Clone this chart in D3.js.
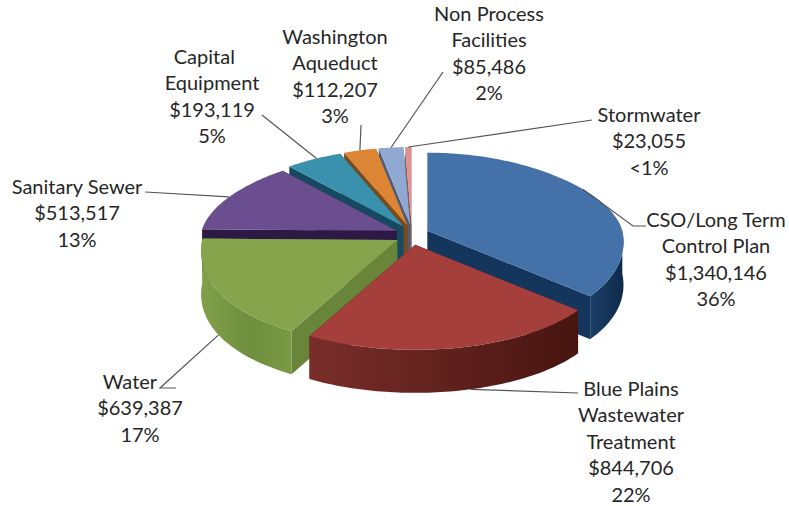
<!DOCTYPE html>
<html>
<head>
<meta charset="utf-8">
<script src="https://cdn.jsdelivr.net/npm/d3@7"></script>
<style>
  html, body { margin: 0; padding: 0; background: #fff; }
  text { font-family: Lato, "Open Sans", sans-serif; font-size: 20px; fill: #262626; }
</style>
</head>
<body>
<script>
// data, clockwise from 12 o'clock
// the non-breaking spaces push a line left of centre, as in the original labels
var names = ["CSO/Long Term|Control Plan", "Blue Plains|Wastewater|Treatment", "Water\u00a0\u00a0\u00a0\u00a0", "Sanitary Sewer",
             "Capital\u00a0\u00a0\u00a0|Equipment", "Washington|Aqueduct", "Non Process|Facilities", "Stormwater"];
var costs = [1340146, 844706, 639387, 513517, 193119, 112207, 85486, 23055];
var shares = ["36%", "22%", "17%", "13%", "5%", "3%", "2%", "<1%"];

// colours per slice: top face, radial wall, outer wall left/right
var topColors = ["#4571a9", "#a43f3c", "#86a44b", "#6b4e90", "#3a91ad", "#dc8535", "#8fa9d3", "#dc9391"];
var sideColors = ["#14365c", "#5a1c19", "#68853a", "#2c1a45", "#174a60", "#7a4a1c", "#4d5d78", "#8a5a58"];
var wallLeft = ["#1b3f69", "#7a2e2a", "#80a04b", "#2c1a45", "#174a60", "#7a4a1c", "#4d5d78", "#8a5a58"];
var wallRight = ["#0f2a4a", "#471410", "#7b9a45", "#2c1a45", "#174a60", "#7a4a1c", "#4d5d78", "#8a5a58"];

// label placement: centre x, y of first line, leader line points from the pie outward
var labelX = [716, 631, 140, 77, 212, 335, 489, 649];
var labelY = [220, 389, 382, 187, 57, 37, 14, 115];
var leaders = [
  [[633, 226], [646, 226]],
  [[578, 393]],
  [[160, 388], [176, 388]],
  [[145, 192]],
  [[262, 115]],
  [[361, 125]],
  [[443, 72]],
  [[592, 120]]
];
var lineHeight = 26.4;

var width = 789, height = 506;

// pie geometry, tilted ellipse with a bit of perspective
var cx = 412, cy = 235,
    rx = 195,
    ryBack = 78, ryFront = 105,
    persp = 0.11,
    depth = 43,
    explodeX = 17, explodeY = 10;

var svg = d3.select("body").append("svg")
    .attr("width", width)
    .attr("height", height)
    .style("display", "block");

var defs = svg.append("defs");

var pie = d3.pie().sort(null).value(function(d) { return d; });
var slices = pie(costs);

slices.forEach(function(s) {
  s.mid = (s.startAngle + s.endAngle) / 2;
  s.ax = cx + explodeX * Math.sin(s.mid);
  s.ay = cy - explodeY * Math.cos(s.mid);
});

// angle on the rim to screen position for one slice
function rim(s, a, drop) {
  var sin = Math.sin(a), cos = Math.cos(a);
  var ry = cos > 0 ? ryBack : ryFront;
  return [s.ax + rx * sin * (1 - persp * cos), s.ay - ry * cos + (drop || 0)];
}

function arcPoints(s, a0, a1, drop) {
  var n = Math.max(2, Math.ceil((a1 - a0) / 0.02));
  return d3.range(n + 1).map(function(i) {
    return rim(s, a0 + (a1 - a0) * i / n, drop);
  });
}

var line = d3.line().curve(d3.curveLinear);

// gradients for the outer walls
slices.forEach(function(s) {
  var g = defs.append("linearGradient").attr("id", "wall" + s.index);
  g.append("stop").attr("offset", "0%").attr("stop-color", wallLeft[s.index]);
  if (s.index == 2) {
    g.append("stop").attr("offset", "55%").attr("stop-color", "#6f8e3e");
  }
  g.append("stop").attr("offset", "100%").attr("stop-color", wallRight[s.index]);
});

// back to front, so nearer slices cover the walls behind them
var order = slices.slice().sort(function(a, b) { return Math.cos(b.mid) - Math.cos(a.mid); });

var g = svg.selectAll(".slice")
    .data(order)
    .enter().append("g")
    .attr("class", "slice");

// radial walls
g.each(function(s) {
  var el = d3.select(this);
  [s.startAngle, s.endAngle].forEach(function(a) {
    var p = rim(s, a);
    el.append("path")
      .attr("d", line([[s.ax, s.ay], p, [p[0], p[1] + depth], [s.ax, s.ay + depth]]) + "Z")
      .attr("fill", sideColors[s.index]);
  });
});

// outer wall, only the part facing the viewer
g.each(function(s) {
  var a0 = Math.max(s.startAngle, Math.PI / 2),
      a1 = Math.min(s.endAngle, Math.PI * 1.5);
  if (a1 <= a0) return;
  var pts = arcPoints(s, a0, a1, 0).concat(arcPoints(s, a0, a1, depth).reverse());
  d3.select(this).append("path")
    .attr("d", line(pts) + "Z")
    .attr("fill", "url(#wall" + s.index + ")");
});

// top faces
g.append("path")
    .attr("d", function(s) {
      return line([[s.ax, s.ay]].concat(arcPoints(s, s.startAngle, s.endAngle, 0))) + "Z";
    })
    .attr("fill", function(s) { return topColors[s.index]; });

// leader lines, from the rim out to the label
var leaderTouch = [0.45, 0.45, 0.5, 0.5, 0.55, 0.5, 0.5, 0.5];
svg.selectAll(".leader")
    .data(slices)
    .enter().append("path")
    .attr("class", "leader")
    .attr("fill", "none")
    .attr("stroke", "#555")
    .attr("stroke-width", 1.2)
    .attr("d", function(s) {
      var a = s.startAngle + (s.endAngle - s.startAngle) * leaderTouch[s.index];
      var front = Math.cos(a) < 0;
      return line([rim(s, a, front ? depth : 0)].concat(leaders[s.index]));
    });

// labels
var fmt = d3.format("$,");
var labels = svg.selectAll(".label")
    .data(slices)
    .enter().append("text")
    .attr("class", "label")
    .attr("text-anchor", "middle");

labels.selectAll("tspan")
    .data(function(s) {
      return names[s.index].split("|").concat([fmt(costs[s.index]), shares[s.index]])
        .map(function(t) { return {text: t, i: s.index}; });
    })
    .enter().append("tspan")
    .attr("x", function(d) { return labelX[d.i]; })
    .attr("y", function(d, i) { return labelY[d.i] + i * lineHeight; })
    .attr("dy", ".35em")
    .text(function(d) { return d.text; });
</script>
</body>
</html>
